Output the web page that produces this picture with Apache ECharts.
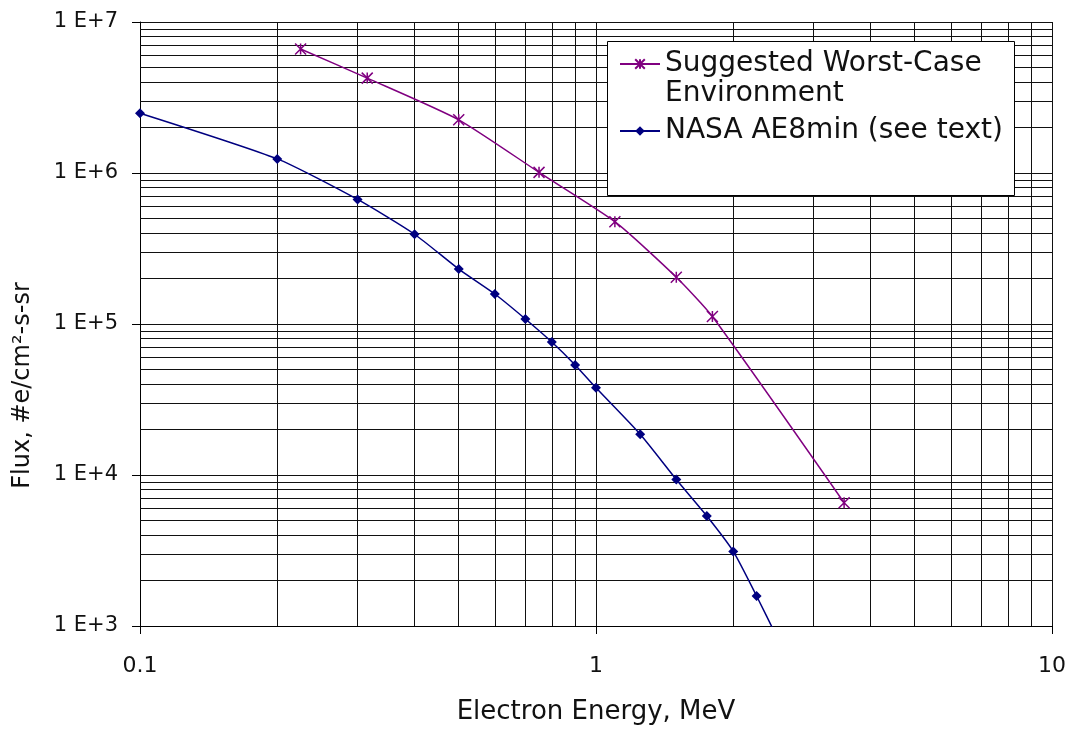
<!DOCTYPE html>
<html>
<head>
<meta charset="utf-8">
<script src="https://cdn.jsdelivr.net/npm/echarts@6/dist/echarts.min.js"></script>
<style>
html, body { margin: 0; padding: 0; background: #fff; }
#chart { width: 1071px; height: 730px; }
</style>
</head>
<body>
<div id="chart"></div>
<script>
// ---- data ----
var seriesNames = ['Suggested Worst-Case Environment', 'NASA AE8min (see text)'];
// leading blank line keeps the legend marker level with the first text line
var legendLabels = ['\nSuggested Worst-Case\nEnvironment', 'NASA AE8min (see text)'];

var energyWorst = [0.225, 0.315, 0.5, 0.75, 1.1, 1.5, 1.8, 3.5];
var fluxWorst   = [6.63e6, 4.25e6, 2.25e6, 1.01e6, 4.76e5, 2.04e5, 1.12e5, 6.55e3];

var energyNasa = [0.1, 0.2, 0.3, 0.4, 0.5, 0.6, 0.7, 0.8, 0.9, 1.0, 1.25, 1.5, 1.75, 2.0, 2.25, 2.5];
var fluxNasa   = [2.49e6, 1.24e6, 6.68e5, 3.93e5, 2.31e5, 1.58e5, 1.08e5, 7.6e4, 5.36e4, 3.78e4, 1.86e4, 9.33e3, 5.35e3, 3.12e3, 1.58e3, 8.3e2];

var xTickLabels = ['0.1', '1', '10'];
var yTickLabels = ['1 E+3', '1 E+4', '1 E+5', '1 E+6', '1 E+7'];
var xMinorTicks = [0.2, 0.3, 0.4, 0.5, 0.6, 0.7, 0.8, 0.9, 2, 3, 4, 5, 6, 7, 8, 9];
var yMinorTicks = [2e3, 3e3, 4e3, 5e3, 6e3, 7e3, 8e3, 9e3,
                   2e4, 3e4, 4e4, 5e4, 6e4, 7e4, 8e4, 9e4,
                   2e5, 3e5, 4e5, 5e5, 6e5, 7e5, 8e5, 9e5,
                   2e6, 3e6, 4e6, 5e6, 6e6, 7e6, 8e6, 9e6];

function zip(xs, ys) { return xs.map(function (x, i) { return [x, ys[i]]; }); }

var FONT = 'DejaVu Sans';
var PURPLE = '#800080';
var NAVY = '#000080';
var GRID = '#111111';
var starPath = 'path://M0,0L10,10M10,0L0,10M5,0L5,10';

var minorLines = xMinorTicks.map(function (v) { return { xAxis: v }; })
  .concat(yMinorTicks.map(function (v) { return { yAxis: v }; }));

var chart = echarts.init(document.getElementById('chart'), null, { renderer: 'canvas' });
chart.setOption({
  animation: false,
  backgroundColor: '#ffffff',
  textStyle: { fontFamily: FONT },
  grid: { left: 140, right: 19, top: 22, bottom: 103, containLabel: false },
  xAxis: {
    type: 'log', logBase: 10, min: 0.1, max: 10,
    axisLine: { show: true, lineStyle: { color: '#000', width: 1 } },
    axisTick: { show: true, length: 8, lineStyle: { color: '#000', width: 1 } },
    axisLabel: {
      margin: 29, fontSize: 22, color: '#111', fontFamily: FONT,
      formatter: function (v) { return xTickLabels[Math.round(Math.log10(v)) + 1]; }
    },
    splitLine: { show: true, lineStyle: { color: GRID, width: 1 } },
    name: 'Electron Energy, MeV', nameLocation: 'middle', nameGap: 73,
    nameTextStyle: { fontSize: 26, color: '#111', fontFamily: FONT }
  },
  yAxis: {
    type: 'log', logBase: 10, min: 1000, max: 1e7,
    axisLine: { show: true, lineStyle: { color: '#000', width: 1 } },
    axisTick: { show: true, length: 8, lineStyle: { color: '#000', width: 1 } },
    axisLabel: {
      margin: 22, fontSize: 21, color: '#111', fontFamily: FONT,
      formatter: function (v) { return yTickLabels[Math.round(Math.log10(v)) - 3]; }
    },
    splitLine: { show: true, lineStyle: { color: GRID, width: 1 } },
    name: 'Flux, #e/cm\u00B2-s-sr', nameLocation: 'middle', nameGap: 105,
    nameTextStyle: { fontSize: 24, color: '#111', fontFamily: FONT, padding: [0, 123, 0, 0] }
  },
  legend: {
    orient: 'vertical', left: 619, top: 19, padding: 0, itemGap: 7,
    itemWidth: 40, itemHeight: 12, selectedMode: false, z: 20,
    textStyle: { fontFamily: FONT, fontSize: 28, lineHeight: 30, color: '#111' },
    formatter: function (name) { return legendLabels[seriesNames.indexOf(name)]; },
    data: [ { name: seriesNames[0] }, { name: seriesNames[1] } ]
  },
  graphic: [{
    type: 'rect', left: 607, top: 41, z: 10, silent: true,
    shape: { width: 407, height: 154 },
    style: { fill: '#ffffff', stroke: '#000000', lineWidth: 1 }
  }],
  series: [
    {
      name: seriesNames[0], type: 'line', z: 3,
      data: zip(energyWorst, fluxWorst),
      symbol: starPath, symbolSize: 11, smooth: 0.2,
      itemStyle: { color: PURPLE, borderColor: PURPLE, borderWidth: 1.5 },
      lineStyle: { color: PURPLE, width: 1.5 }
    },
    {
      name: seriesNames[1], type: 'line', z: 3,
      data: zip(energyNasa, fluxNasa),
      symbol: 'diamond', symbolSize: 10, smooth: 0.2,
      itemStyle: { color: NAVY },
      lineStyle: { color: NAVY, width: 1.5 },
      markLine: {
        z: 1, silent: true, symbol: ['none', 'none'], animation: false,
        label: { show: false },
        lineStyle: { color: GRID, width: 1, type: 'solid' },
        emphasis: { disabled: true },
        data: minorLines
      }
    }
  ]
});
</script>
</body>
</html>
